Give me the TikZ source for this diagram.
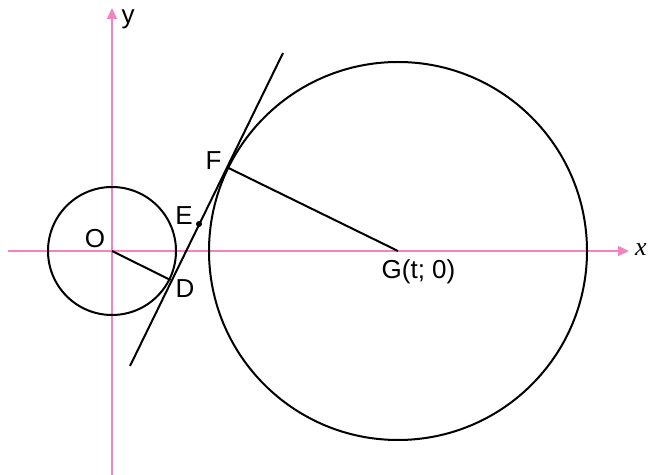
\documentclass[tikz,border=0pt]{standalone}
\usepackage{fontspec}
\setmainfont{Liberation Sans}
\newfontfamily\serifit{Liberation Serif}
\usetikzlibrary{arrows.meta}
\definecolor{axpink}{RGB}{243,132,192}
\begin{document}
\begin{tikzpicture}[x=0.5pt,y=-0.5pt,
  axis/.style={draw=axpink,line width=0.75pt,-{Triangle[length=5.5pt,width=5pt]}},
  geo/.style={draw=black,line width=1pt},
  lbl/.style={inner sep=0pt,anchor=base,font=\fontsize{13}{15}\selectfont}]
\useasboundingbox (0,0) rectangle (648,475);
% coordinates
\coordinate (O) at (112,251);
\coordinate (G) at (398,251);
\coordinate (D) at (170.5,280);
\coordinate (F) at (228.5,168);
\coordinate (E) at (199,224);
\coordinate (L1) at (130,366);
\coordinate (L2) at (283,53);
\coordinate (xs) at (8,251);
\coordinate (xe) at (629,251);
\coordinate (ys) at (112,475);
\coordinate (ye) at (112,8);
% axes
\draw[axis] (xs) -- (xe);
\draw[axis] (ys) -- (ye);
% circles
\draw[geo] (O) circle[radius=64];
\draw[geo] (G) circle[radius=189];
% tangent line and radii
\draw[geo] (L1) -- (L2);
\draw[geo] (O) -- (D);
\draw[geo] (G) -- (F);
\fill (E) circle[radius=3];
% labels
\node[lbl] (lO) at (95,248) {O};
\node[lbl] (lE) at (184,225) {E};
\node[lbl] (lD) at (185,298) {D};
\node[lbl] (lF) at (213.5,170) {F};
\node[lbl] (lG) at (418.5,279) {G(t; 0)};
\node[lbl] (lx) at (641,256) {\serifit\itshape x};
\node[lbl] (ly) at (128,24) {y};
\end{tikzpicture}
\end{document}
